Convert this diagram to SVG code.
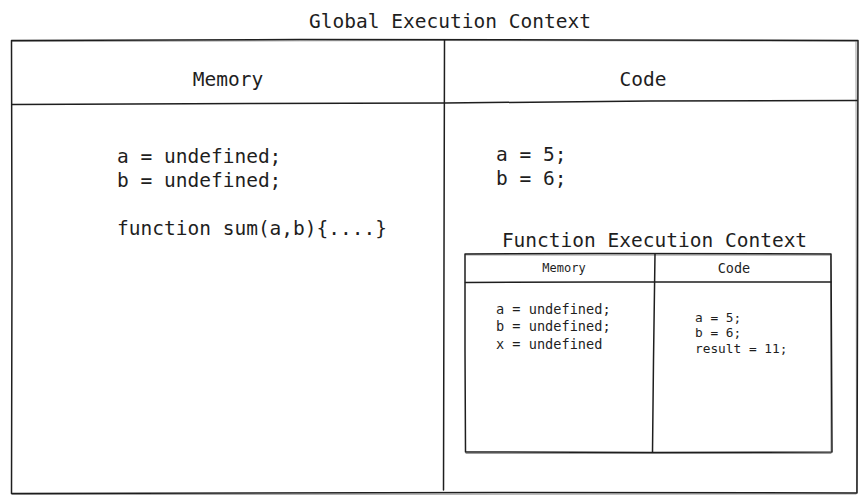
<svg xmlns="http://www.w3.org/2000/svg" width="863" height="503" viewBox="0 0 863 503">
<style>
.ln{fill:none;stroke:#1e1e1e;stroke-width:1.5;stroke-linecap:round;stroke-linejoin:round}
.ln2{fill:none;stroke:#1e1e1e;stroke-width:0.8;stroke-opacity:0.55;stroke-linecap:round}
.t{font-family:"DejaVu Sans Mono","Liberation Mono",monospace;fill:#1e1e1e}
.big{font-size:19.5px}
.sm{font-size:13.6px}
</style>
<rect width="863" height="503" fill="#ffffff"/>
<text class="t big" x="450" y="28" text-anchor="middle">Global Execution Context</text>
<g id="global-context">
<path class="ln" d="M11.5 40.5 L300 39.5 L600 40 L858 40.5 L857.5 300 L857 493 L500 492.5 L11.5 493.5 L12 260 Z"/>
<path class="ln2" d="M12 41.5 L430 40.5 L857 41.2 M856 42 L856.5 492 M856 494 L12 494.5"/>
<path class="ln" d="M12 104.5 L250 103.5 L445 103 L650 101 L857 100.5"/>
<path class="ln" d="M444.5 40 L444 260 L443.5 490"/>
</g>
<g id="global-memory">
<text class="t big" x="228" y="86" text-anchor="middle">Memory</text>
<text class="t big" x="117" y="163">a = undefined;</text>
<text class="t big" x="117" y="187">b = undefined;</text>
<text class="t big" x="117" y="235">function sum(a,b){....}</text>
</g>
<g id="global-code">
<text class="t big" x="643" y="86" text-anchor="middle">Code</text>
<text class="t big" x="496" y="161">a = 5;</text>
<text class="t big" x="496" y="185">b = 6;</text>
</g>
<text class="t big" x="654.5" y="247" text-anchor="middle">Function Execution Context</text>
<g id="function-context">
<path class="ln" d="M465 254 L600 253.5 L831 254 L831.5 350 L832 452 L650 452.5 L465.5 452 L465 350 Z"/>
<path class="ln2" d="M466 255 L830 255.2 M830.5 256 L831 451 M831 453.5 L466 453.5"/>
<path class="ln" d="M465.5 282.5 L600 282 L831 282"/>
<path class="ln" d="M655 254 L653.5 360 L652.5 452"/>
</g>
<g id="function-memory">
<text class="t" style="font-size:12px" x="564" y="272" text-anchor="middle">Memory</text>
<text class="t sm" x="496" y="314">a = undefined;</text>
<text class="t sm" x="496" y="331">b = undefined;</text>
<text class="t sm" x="496" y="349">x = undefined</text>
</g>
<g id="function-code">
<text class="t" style="font-size:13.5px" x="734" y="273" text-anchor="middle">Code</text>
<text class="t" style="font-size:12.8px" x="695" y="322">a = 5;</text>
<text class="t" style="font-size:12.8px" x="695" y="337">b = 6;</text>
<text class="t" style="font-size:12.8px" x="695" y="353">result = 11;</text>
</g>
<g id="connectors"></g>
</svg>
